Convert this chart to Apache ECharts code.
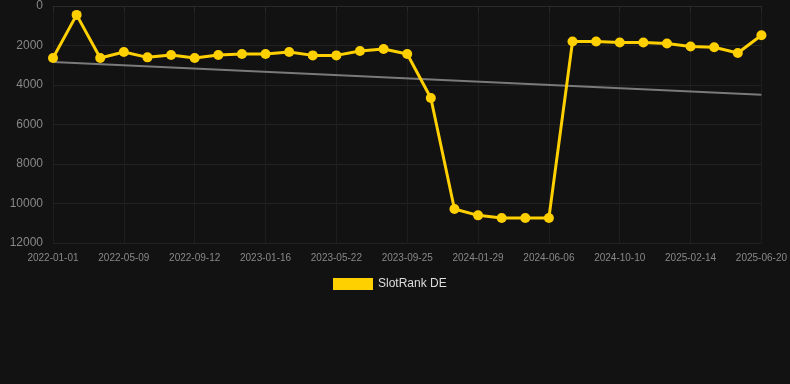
<!DOCTYPE html>
<html>
<head>
<meta charset="utf-8">
<script src="https://cdn.jsdelivr.net/npm/echarts@6/dist/echarts.min.js"></script>
<style>
html,body{margin:0;padding:0;background:#121212;}
#chart{width:790px;height:384px;}
</style>
</head>
<body>
<div id="chart"></div>
<script>
var dates = ['2022-01-01','2022-02-12','2022-03-26','2022-05-09','2022-06-20','2022-08-01','2022-09-12','2022-10-24','2022-12-05','2023-01-16','2023-02-27','2023-04-10','2023-05-22','2023-07-03','2023-08-14','2023-09-25','2023-11-06','2023-12-18','2024-01-29','2024-03-11','2024-04-24','2024-06-06','2024-07-18','2024-08-29','2024-10-10','2024-11-21','2025-01-03','2025-02-14','2025-03-28','2025-05-09','2025-06-20'];
var rankDE = [2630,450,2630,2330,2600,2480,2630,2480,2430,2430,2330,2500,2500,2280,2180,2430,4660,10280,10600,10730,10730,10730,1800,1800,1850,1850,1900,2050,2090,2380,1480];
var trend = [2830,null,null,null,null,null,null,null,null,null,null,null,null,null,null,null,null,null,null,null,null,null,null,null,null,null,null,null,null,null,4490];
var yTicks = [0,2000,4000,6000,8000,10000,12000];

var chart = echarts.init(document.getElementById('chart'));
chart.setOption({
  backgroundColor: '#121212',
  animation: false,
  grid: {left: 53, right: 28, top: 6, bottom: 141},
  legend: {
    data: ['SlotRank DE'],
    top: 273,
    left: 328,
    itemWidth: 40,
    itemHeight: 12,
    itemGap: 10,
    textStyle: {color: '#dddddd', fontSize: 12, fontFamily: 'Liberation Sans, Arial, sans-serif'},
    icon: 'rect'
  },
  xAxis: {
    type: 'category',
    data: dates,
    boundaryGap: false,
    axisLine: {show: true, lineStyle: {color: '#2a2a2a'}},
    axisTick: {show: true, interval: 2, lineStyle: {color: '#2a2a2a'}},
    axisLabel: {interval: 2, color: '#888888', fontSize: 10, margin: 10, fontFamily: 'Liberation Sans, Arial, sans-serif'},
    splitLine: {show: true, interval: 2, lineStyle: {color: '#1e1e1e'}}
  },
  yAxis: {
    type: 'value',
    inverse: true,
    min: yTicks[0],
    max: yTicks[yTicks.length - 1],
    interval: 2000,
    axisLine: {show: false},
    axisTick: {show: false},
    axisLabel: {color: '#888888', fontSize: 12, margin: 10, fontFamily: 'Liberation Sans, Arial, sans-serif', formatter: function (v) { return String(v); }},
    splitLine: {show: true, lineStyle: {color: '#222222'}}
  },
  series: [
    {
      name: 'Trend',
      type: 'line',
      data: trend,
      connectNulls: true,
      showSymbol: false,
      symbol: 'none',
      lineStyle: {color: '#7a7a7a', width: 2},
      z: 1
    },
    {
      name: 'SlotRank DE',
      type: 'line',
      data: rankDE,
      symbol: 'circle',
      symbolSize: 10,
      itemStyle: {color: '#FFD000'},
      lineStyle: {color: '#FFD000', width: 3},
      z: 2
    }
  ]
});
</script>
</body>
</html>
